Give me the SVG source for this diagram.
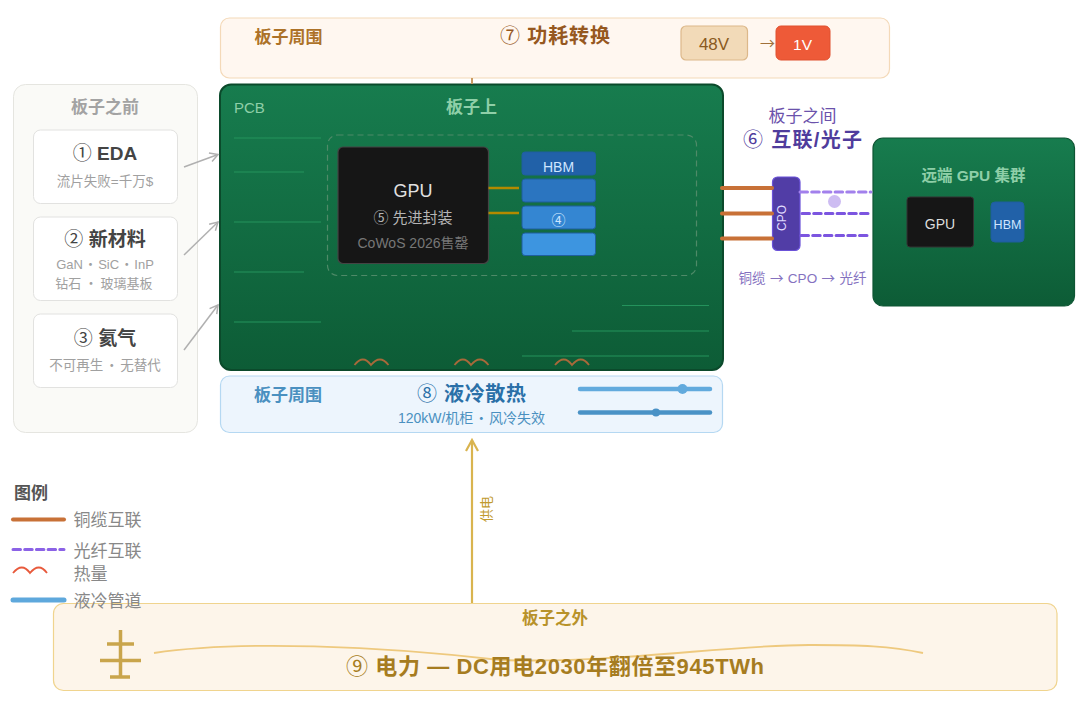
<svg xmlns="http://www.w3.org/2000/svg" width="1080" height="702" viewBox="0 0 1080 702">
<style>
text{font-family:"Liberation Sans","Noto Sans CJK SC",sans-serif;text-anchor:middle}
.c{font-family:"Noto Sans CJK SC",sans-serif;font-weight:400}
.l{text-anchor:start}
.b{font-weight:700}
.card{fill:#fff;stroke:#e2e2e0;stroke-width:1}
.t1{font-size:19px;fill:#444}
.sub{font-size:13.5px;fill:#a0a0a0}
.trace{stroke:#24935c;stroke-width:1.2;fill:none}
.wave{fill:none;stroke:#a8693a;stroke-width:1.8}
.hbm{stroke:#1f5f9e;stroke-width:1}
.cu{stroke:#c87137;stroke-width:4;stroke-linecap:round;fill:none}
.fib{stroke:#7c55e0;stroke-width:3;stroke-dasharray:7.500 4.200;stroke-linecap:round;fill:none}
.wire{stroke:#b38a00;stroke-width:2.500;fill:none}
.leg{font-size:17px;fill:#888}
.tower{stroke:#c9a54c;fill:none}
</style>
<defs>
<linearGradient id="pcb" x1="0" y1="0" x2="0" y2="1"><stop offset="0" stop-color="#177c4e"/><stop offset="1" stop-color="#0d5c36"/></linearGradient>
<marker id="ag" markerWidth="12" markerHeight="12" refX="10" refY="6" orient="auto" markerUnits="userSpaceOnUse"><path d="M2 1.500L10 6L2 10.500" fill="none" stroke="#b0b0b0" stroke-width="1.500"/></marker>
<marker id="ap" markerWidth="16" markerHeight="16" refX="13" refY="8" orient="auto" markerUnits="userSpaceOnUse"><path d="M2 2L13 8L2 14" fill="none" stroke="#d9b44f" stroke-width="2.200"/></marker>
</defs>
<rect width="1080" height="702" fill="#fff"/>

<g id="before-board">
<rect x="13.500" y="84.500" width="184" height="348" rx="12" fill="#fafaf7" stroke="#e5e5e0"/>
<text x="105" y="113" class="b" font-size="17" fill="#a3a3a3">板子之前</text>
</g>
<g id="eda">
<rect class="card" x="33.500" y="130" width="144" height="73.500" rx="7"/>
<text x="105" y="160" class="t1 b"><tspan class="c">①</tspan> EDA</text>
<text x="105" y="186" class="sub">流片失败=千万$</text>
</g>
<g id="materials">
<rect class="card" x="33.500" y="217" width="144" height="83.500" rx="7"/>
<text x="105" y="246" class="t1 b"><tspan class="c">②</tspan> 新材料</text>
<text x="105" y="269" class="sub" style="font-size:13px;word-spacing:-2.500px">GaN <tspan class="c">·</tspan> SiC <tspan class="c">·</tspan> InP</text>
<text x="104" y="288" class="sub" style="font-size:13px;word-spacing:-.5px">钻石 <tspan class="c">·</tspan> 玻璃基板</text>
</g>
<g id="helium">
<rect class="card" x="33.500" y="314" width="144" height="73.500" rx="7"/>
<text x="105" y="345" class="t1 b"><tspan class="c">③</tspan> 氦气</text>
<text x="105" y="370" class="sub" style="word-spacing:-2px">不可再生 <tspan class="c">·</tspan> 无替代</text>
</g>

<g id="pcb-board">
<rect x="220" y="84.500" width="503" height="285.500" rx="11" fill="url(#pcb)" stroke="#0b4a2b" stroke-width="2"/>
<text x="234" y="113" class="l" font-size="15" fill="#8fcfa8">PCB</text>
<text x="471.500" y="113" class="b" font-size="17" fill="#8fcfa8">板子上</text>
<path class="trace" d="M234 138H321M234 172H304M234 222H321M234 272H304M234 322H321M622 305.500H709M572 331H709M522 356H709"/>
<path class="wave" d="M354.500 365Q363 354 371 365Q380 354 388.500 365M454.500 365Q463 354 471 365Q480 354 488.500 365M555 365Q564 354 572 365Q581 354 589 365"/>
<rect x="327.500" y="135" width="369" height="140.500" rx="10" fill="none" stroke="#4f8a68" stroke-width="1.200" stroke-dasharray="6 4"/>
</g>
<g id="gpu">
<rect x="338" y="147" width="150.500" height="116.500" rx="5" fill="#161616" stroke="#444" stroke-width="1.200"/>
<text x="413" y="197" font-size="18" fill="#e0e0e0">GPU</text>
<text x="413" y="223" font-size="15" fill="#b5b5b5"><tspan class="c">⑤</tspan> 先进封装</text>
<text x="413" y="248" font-size="14" fill="#777">CoWoS 2026售罄</text>
</g>
<g id="hbm">
<rect class="hbm" x="522" y="152" width="73.500" height="23" rx="3" fill="#2161a8"/>
<rect class="hbm" x="522" y="179" width="73.500" height="23" rx="3" fill="#2b75c0"/>
<rect class="hbm" x="522" y="206" width="73.500" height="23" rx="3" fill="#3486d2"/>
<rect class="hbm" x="522" y="233" width="73.500" height="22.500" rx="3" fill="#3d95e0"/>
<text x="558.500" y="172" font-size="14" fill="#cfe6ff">HBM</text>
<text x="558.500" y="225" font-size="14" fill="#cfe6ff" class="c">④</text>
</g>

<g id="between-boards">
<text x="802.500" y="121.500" font-size="17" fill="#6b52ab">板子之间</text>
<text x="802.500" y="147" class="b" font-size="20" fill="#4f3c9c" textLength="119"><tspan class="c">⑥</tspan> 互联/光子</text>
<text x="802.500" y="283" font-size="13.500" fill="#8572bf" style="word-spacing:.7px">铜缆 <tspan class="c">→</tspan> CPO <tspan class="c">→</tspan> 光纤</text>
</g>
<g id="cpo">
<rect x="772.500" y="177" width="27.500" height="73.500" rx="5" fill="#513da6" stroke="#6b52d8" stroke-width="1.200"/>
<text x="786" y="218" font-size="12" fill="#e0dcff" transform="rotate(-90 786 218)">CPO</text>
</g>
<g id="remote-cluster">
<rect x="873" y="138" width="201.500" height="168" rx="10" fill="url(#pcb)" stroke="#0e5533" stroke-width="1.200"/>
<text x="973.500" y="180.500" class="b" font-size="15.500" fill="#8fcfa8">远端 GPU 集群</text>
<rect x="907" y="197" width="66.500" height="50" rx="3" fill="#161616" stroke="#333"/>
<text x="940" y="229" font-size="14" fill="#ddd">GPU</text>
<rect x="991" y="202" width="33" height="40" rx="4" fill="#2161a8" stroke="#1f5f9e"/>
<text x="1007.500" y="229" font-size="12.500" fill="#cfe6ff">HBM</text>
</g>

<g id="power-conversion">
<rect x="220.500" y="18" width="669" height="60" rx="9" fill="#fff7f0" stroke="#f4d9b8" stroke-width="1.200"/>
<text x="288.500" y="43" class="b" font-size="17" fill="#ad7228">板子周围</text>
<text x="555" y="42.500" class="b" font-size="20" fill="#96581f" textLength="110"><tspan class="c">⑦</tspan> 功耗转换</text>
<rect x="681" y="26" width="66.500" height="34" rx="5" fill="#f2dab8" stroke="#dcb88a" stroke-width="1.200"/>
<text x="714" y="50" font-size="17" fill="#8a5a22">48V</text>
<rect x="776" y="26" width="54" height="34" rx="5" fill="#ee5a38" stroke="#e0502f"/>
<text x="802.500" y="49.500" font-size="15.500" fill="#fff">1V</text>
<text x="767.500" y="48.500" font-size="15" fill="#a0703a" class="c">→</text>
</g>
<g id="liquid-cooling">
<rect x="220.500" y="376" width="502" height="56.500" rx="9" fill="#edf5fd" stroke="#b5d8f2" stroke-width="1.200"/>
<text x="288" y="401" class="b" font-size="17" fill="#4a90c0">板子周围</text>
<text x="471.500" y="401" class="b" font-size="20" fill="#2a70a8" textLength="109"><tspan class="c">⑧</tspan> 液冷散热</text>
<text x="471.500" y="423" font-size="14" fill="#4a90c0" style="word-spacing:-3px">120kW/机柜 <tspan class="c">·</tspan> 风冷失效</text>
<path d="M580 389H710" stroke="#62aadd" stroke-width="4.500" stroke-linecap="round"/>
<path d="M580 412.500H710" stroke="#4a92c6" stroke-width="4.500" stroke-linecap="round"/>
<circle cx="682.500" cy="389" r="5" fill="#62aadd"/>
<circle cx="656" cy="412.500" r="4" fill="#4a92c6"/>
</g>

<g id="connectors">
<path d="M184 167L218 154.500" stroke="#b0b0b0" stroke-width="1.500" fill="none" marker-end="url(#ag)"/>
<path d="M184 255L218 222" stroke="#b0b0b0" stroke-width="1.500" fill="none" marker-end="url(#ag)"/>
<path d="M184 350L218 305" stroke="#b0b0b0" stroke-width="1.500" fill="none" marker-end="url(#ag)"/>
<path class="wire" d="M488.500 188H519M488.500 213H519"/>
<path class="cu" d="M722 188H772M722 213.500H772M722 238.500H772"/>
<path class="fib" d="M800 192H871" style="stroke:#a280ec"/>
<path class="fib" d="M802 213.500H868"/>
<path class="fib" d="M801 235.500H867"/>
<circle cx="834.500" cy="201.500" r="6.500" fill="#cdbcf2"/>
<path d="M472 78V84" stroke="#c99a62" stroke-width="2"/>
<path d="M472 603V440" stroke="#d9b44f" stroke-width="2.200" fill="none" marker-end="url(#ap)"/>
<text x="487" y="509" font-size="13" fill="#c19a2e" transform="rotate(-90 487 509)" dy="4">供电</text>
</g>

<g id="grid-power">
<rect x="53.500" y="603.500" width="1003.500" height="87" rx="10" fill="#fdf5ea" stroke="#f0d48e" stroke-width="1.200"/>
<text x="555" y="623.500" class="b" font-size="16.500" fill="#b8922a">板子之外</text>
<path d="M154 653C240 640 380 646 500 660C620 664 730 644 813 645C860 645 890 646 923 653" fill="none" stroke="#eec97e" stroke-width="1.800"/>
<text x="555" y="674" class="b" font-size="22" fill="#a67c20" textLength="418"><tspan class="c">⑨</tspan> 电力 — DC用电2030年翻倍至945TWh</text>
<path class="tower" stroke-width="3.500" d="M120.500 630V678M107 644H134M100 660.500H141M110 677H130"/>
</g>

<g id="legend">
<text x="14" y="499" class="l b" font-size="17" fill="#555">图例</text>
<path d="M13 519.500H64" stroke="#c87137" stroke-width="4" stroke-linecap="round"/>
<text x="73.500" y="526" class="l leg">铜缆互联</text>
<path d="M13 549.500H64" stroke="#8b62e6" stroke-width="3" stroke-dasharray="7.500 4.200" stroke-linecap="round"/>
<text x="73.500" y="556.500" class="l leg">光纤互联</text>
<path d="M13 573Q22 562 30 573Q39 562 47 573" fill="none" stroke="#e85a3c" stroke-width="1.800"/>
<text x="73.500" y="580" class="l leg">热量</text>
<path d="M13 600H64" stroke="#5ea8dc" stroke-width="5" stroke-linecap="round"/>
<text x="73.500" y="607" class="l leg">液冷管道</text>
</g>
</svg>
